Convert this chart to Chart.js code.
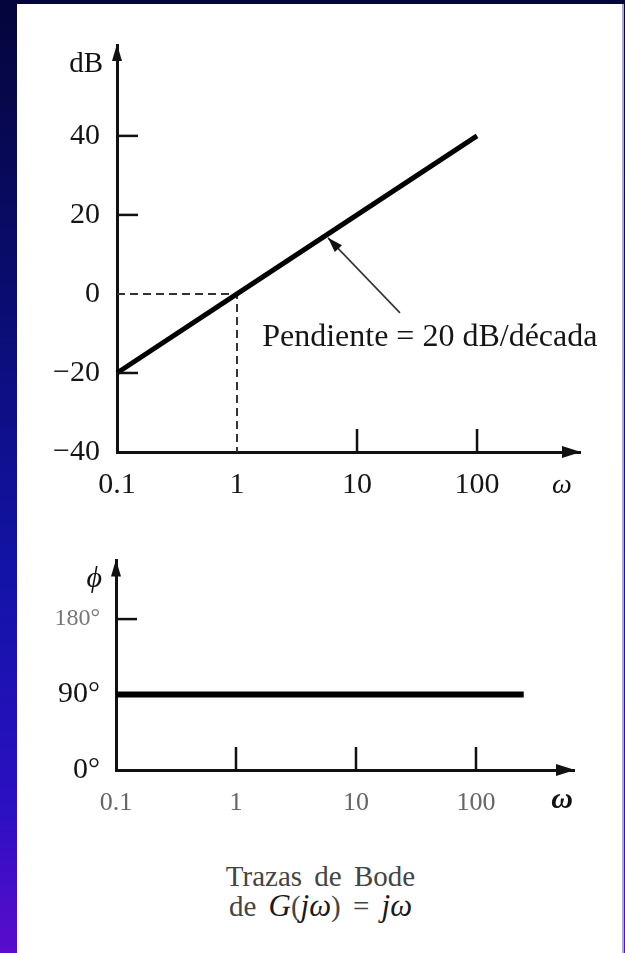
<!DOCTYPE html>
<html>
<head>
<meta charset="utf-8">
<script src="https://cdn.jsdelivr.net/npm/chart.js"></script>
<style>
    html, body { margin: 0; padding: 0; }
    body {
        width: 625px; height: 953px; overflow: hidden; position: relative;
        background: linear-gradient(to bottom, #04053a 0%, #0a0c6e 30%, #1313a6 60%, #2c10c2 85%, #5a0ccc 100%);
    }
    #panel {
        position: absolute; left: 17px; top: 4px; width: 605px; height: 949px;
        background: #fff; border-right: 2px solid #aca8d0;
    }
    .plot { position: absolute; left: 0; }
    #caption {
        position: absolute; left: 17px; width: 607px; top: 862px;
        text-align: center; font-family: "Liberation Serif", serif;
        color: #444; font-size: 29px; line-height: 29px; word-spacing: 5px;
    }
    #caption i { color: #1a1a1a; font-size: 31px; }
</style>
</head>
<body>
<div id="panel"></div>
<canvas id="mag-chart" class="plot" width="625" height="530" style="top:0"></canvas>
<canvas id="phase-chart" class="plot" width="625" height="330" style="top:530px"></canvas>
<div id="caption">Trazas de Bode<br>de <i>G</i>(<i>jω</i>) = <i>jω</i></div>

<script>
// frequency axis (shared)
const omegaTicks = [0.1, 1, 10, 100];
const omegaLabels = ['0.1', '1', '10', '100'];

// magnitude plot
const magOmega = [0.1, 1, 10, 100];
const magDb = [-20, 0, 20, 40];
const dbTicks = [-40, -20, 0, 20, 40];
const dbLabels = ['−40', '−20', '0', '20', '40'];
const guideOmega = [0.1, 1, 1];
const guideDb = [0, 0, -40];

// slope note (data coordinates)
const slopeNote = 'Pendiente = 20 dB/década';
const noteAt = [1.62, -11.1];
const noteArrowFrom = [22.8, -4.8];
const noteArrowTo = [5.73, 14.2];

// phase plot
const phaseOmega = [0.1, 250];
const phaseDeg = [90, 90];
const phaseTicks = [0, 90, 180];
const phaseLabels = ['0°', '90°', '180°'];

const SERIF = '"Liberation Serif", "Times New Roman", serif';
const INK = '#111';

function toPoints(xs, ys) {
    return xs.map((v, i) => ({ x: v, y: ys[i] }));
}

function arrowHead(ctx, x1, y1, x2, y2, len, half) {
    const ang = Math.atan2(y2 - y1, x2 - x1);
    ctx.beginPath();
    ctx.moveTo(x2, y2);
    ctx.lineTo(x2 - len * Math.cos(ang) + half * Math.sin(ang), y2 - len * Math.sin(ang) - half * Math.cos(ang));
    ctx.lineTo(x2 - len * Math.cos(ang) - half * Math.sin(ang), y2 - len * Math.sin(ang) + half * Math.cos(ang));
    ctx.closePath();
    ctx.fill();
}

// inward ticks, axis arrows, axis names, and the slope note
const bodeAxes = {
    id: 'bodeAxes',
    afterDraw(chart, args, opts) {
        const { ctx, chartArea: a, scales: { x, y } } = chart;
        ctx.save();
        ctx.strokeStyle = INK;
        ctx.fillStyle = INK;
        ctx.lineWidth = 2.5;

        opts.xTicks.forEach(v => {
            const px = x.getPixelForValue(v);
            ctx.beginPath(); ctx.moveTo(px, a.bottom); ctx.lineTo(px, a.bottom - 23); ctx.stroke();
        });
        opts.yTicks.forEach(v => {
            const py = y.getPixelForValue(v);
            ctx.beginPath(); ctx.moveTo(a.left, py); ctx.lineTo(a.left + 21, py); ctx.stroke();
        });

        arrowHead(ctx, a.left, a.top + 30, a.left, a.top - 1, 17, 5);
        arrowHead(ctx, a.right - 30, a.bottom, a.right + 1, a.bottom, 19, 6);

        ctx.textBaseline = 'middle';
        ctx.textAlign = 'right';
        ctx.font = opts.yNameFont;
        ctx.fillText(opts.yName, a.left - 14, a.top + 19);
        ctx.textAlign = 'center';
        ctx.font = opts.xNameFont;
        ctx.fillText('ω', 562, a.bottom + opts.xNameDy);

        if (opts.note) {
            const n = opts.note;
            const fx = x.getPixelForValue(n.from[0]), fy = y.getPixelForValue(n.from[1]);
            const tx = x.getPixelForValue(n.to[0]), ty = y.getPixelForValue(n.to[1]);
            ctx.lineWidth = 1.6;
            ctx.strokeStyle = '#333';
            ctx.beginPath(); ctx.moveTo(fx, fy); ctx.lineTo(tx, ty); ctx.stroke();
            arrowHead(ctx, fx, fy, tx, ty, 15, 5);
            ctx.font = '32px ' + SERIF;
            ctx.textAlign = 'left';
            ctx.fillStyle = '#151515';
            ctx.fillText(n.text, x.getPixelForValue(n.at[0]), y.getPixelForValue(n.at[1]));
        }
        ctx.restore();
    }
};

function xScale(max, height, labelColor, labelSize, pad) {
    return {
        type: 'logarithmic',
        min: 0.1,
        max: max,
        afterBuildTicks: s => { s.ticks = omegaTicks.map(v => ({ value: v })); },
        afterFit: s => { s.height = height; },
        grid: { display: false, drawTicks: false },
        border: { display: true, color: INK, width: 3 },
        ticks: {
            autoSkip: false, maxRotation: 0, padding: pad,
            color: labelColor,
            font: { family: SERIF, size: labelSize },
            callback: (v, i) => omegaLabels[i]
        }
    };
}

const magChart = new Chart(document.getElementById('mag-chart'), {
    type: 'scatter',
    data: {
        datasets: [
            {
                data: toPoints(magOmega, magDb),
                showLine: true, borderColor: '#000', borderWidth: 5,
                pointRadius: 0, clip: false
            },
            {
                data: toPoints(guideOmega, guideDb),
                showLine: true, borderColor: '#333', borderWidth: 2,
                borderDash: [8, 5], pointRadius: 0
            }
        ]
    },
    options: {
        responsive: false,
        animation: false,
        events: [],
        layout: { padding: { left: 0, top: 45, right: 45, bottom: 0 } },
        plugins: {
            legend: { display: false },
            tooltip: { enabled: false },
            bodeAxes: {
                xTicks: [10, 100],
                yTicks: [-20, 20, 40],
                yName: 'dB',
                yNameFont: '29px ' + SERIF,
                xNameFont: 'italic 28px ' + SERIF,
                xNameDy: 34,
                note: { text: slopeNote, at: noteAt, from: noteArrowFrom, to: noteArrowTo }
            }
        },
        scales: {
            x: xScale(721, 78, '#151515', 30, 15),
            y: {
                min: -40, max: 63,
                afterBuildTicks: s => { s.ticks = dbTicks.map(v => ({ value: v })); },
                afterFit: s => { s.width = 117; },
                grid: { display: false, drawTicks: false },
                border: { display: true, color: INK, width: 3 },
                ticks: {
                    padding: 17, color: '#151515',
                    font: { family: SERIF, size: 30 },
                    callback: (v, i) => dbLabels[i]
                }
            }
        }
    },
    plugins: [bodeAxes]
});

const phaseChart = new Chart(document.getElementById('phase-chart'), {
    type: 'scatter',
    data: {
        datasets: [{
            data: toPoints(phaseOmega, phaseDeg),
            showLine: true, borderColor: '#000', borderWidth: 6,
            pointRadius: 0, clip: false
        }]
    },
    options: {
        responsive: false,
        animation: false,
        events: [],
        layout: { padding: { left: 0, top: 20, right: 51, bottom: 0 } },
        plugins: {
            legend: { display: false },
            tooltip: { enabled: false },
            bodeAxes: {
                xTicks: [1, 10, 100],
                yTicks: [180],
                yName: 'ϕ',
                yNameFont: 'italic 30px ' + SERIF,
                xNameFont: 'bold italic 30px ' + SERIF,
                xNameDy: 30
            }
        },
        scales: {
            x: xScale(656, 90, '#666', 26, 18),
            y: {
                min: 0, max: 250,
                afterBuildTicks: s => { s.ticks = phaseTicks.map(v => ({ value: v })); },
                afterFit: s => { s.width = 116; },
                grid: { display: false, drawTicks: false },
                border: { display: true, color: INK, width: 3 },
                ticks: {
                    padding: 16,
                    color: c => (c.tick && c.tick.value === 180 ? '#777' : '#151515'),
                    font: c => ({ family: SERIF, size: c.tick && c.tick.value === 180 ? 24 : 30 }),
                    callback: (v, i) => phaseLabels[i]
                }
            }
        }
    },
    plugins: [bodeAxes]
});
</script>
</body>
</html>
